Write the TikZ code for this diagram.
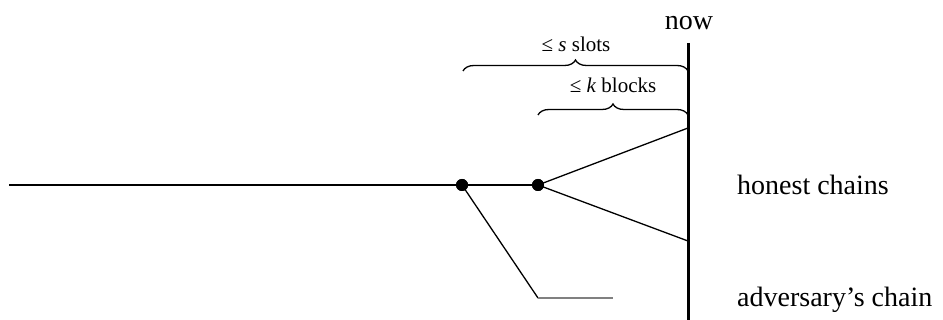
\documentclass[tikz,border=0pt]{standalone}
\usepackage{fontspec}
\setmainfont{Liberation Serif}
\usetikzlibrary{decorations.pathreplacing}
\begin{document}
\begin{tikzpicture}[x=1pt,y=-1pt,
  thinline/.style={line width=1.3pt},
  dotnode/.style={circle,fill=black,inner sep=0pt,minimum size=12pt},
  bigtext/.style={font=\fontsize{28}{32}\selectfont,inner sep=0pt},
  smalltext/.style={font=\fontsize{21}{24}\selectfont,inner sep=0pt},
  bracestyle/.style={line width=1.3pt,decorate,decoration={brace,amplitude=11pt}}]
\useasboundingbox (0,0) rectangle (943,320);
% coordinates
\coordinate (start) at (9,185);
\node[dotnode] (d1) at (462,185) {};
\node[dotnode] (d2) at (538,185) {};
\coordinate (nowtop) at (688,43);
\coordinate (nowbot) at (688,320);
\coordinate (h1) at (688,128);
\coordinate (h2) at (688,241);
\coordinate (abend) at (538,298);
\coordinate (aend) at (613,298);
\coordinate (b1l) at (463,71);
\coordinate (b1r) at (688,71);
\coordinate (b2l) at (538,115);
\coordinate (b2r) at (688,115);
% lines
\draw[thinline] (start) -- (d1.center) -- (d2.center);
\draw[thinline] (d2.center) -- (h1);
\draw[thinline] (d2.center) -- (h2);
\draw[thinline] (d1.center) -- (abend);
\draw[thinline,gray] (abend) -- (aend);
\draw[line width=3pt] (nowtop) -- (nowbot);
\node[dotnode] at (d1) {};
\node[dotnode] at (d2) {};
% braces
\draw[bracestyle] (b1l) -- (b1r);
\draw[bracestyle] (b2l) -- (b2r);
% labels
\node[bigtext,anchor=base] (now) at (689,30) {now};
\node[smalltext,anchor=base] (slots) at (576,52) {≤ \textit{s} slots};
\node[smalltext,anchor=base] (blocks) at (613,93) {≤ \textit{k} blocks};
\node[bigtext,anchor=base west] (hon) at (737,195) {honest chains};
\node[bigtext,anchor=base west] (adv) at (737,307) {adversary’s chain};
\end{tikzpicture}
\end{document}
